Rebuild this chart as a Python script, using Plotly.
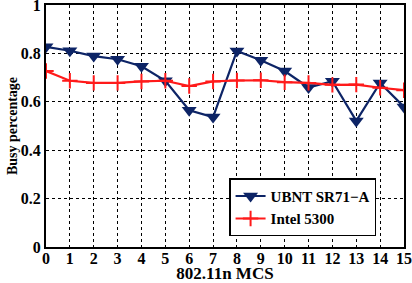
import plotly.graph_objects as go

mcs = list(range(16))
ubnt = [0.827, 0.811, 0.789, 0.776, 0.747, 0.687, 0.565, 0.537, 0.810, 0.772, 0.727, 0.659, 0.685, 0.521, 0.678, 0.579]
intel = [0.727, 0.687, 0.678, 0.678, 0.684, 0.687, 0.665, 0.684, 0.688, 0.689, 0.681, 0.678, 0.670, 0.671, 0.658, 0.648]
x_ticks = list(range(16))
y_ticks = [0, 0.2, 0.4, 0.6, 0.8, 1]
y_tick_text = ["0", "0.2", "0.4", "0.6", "0.8", "1"]

font = dict(family="Liberation Serif", size=15, color="black", weight="bold")

fig = go.Figure()
fig.add_trace(go.Scatter(
    x=mcs, y=ubnt, mode="lines+markers", name="UBNT SR71\u2212A",
    line=dict(color="#0d2466", width=2.2),
    marker=dict(symbol="triangle-down", size=13, color="#0d2466"),
))
fig.add_trace(go.Scatter(
    x=mcs, y=intel, mode="lines+markers", name="Intel 5300",
    line=dict(color="#ff1a1a", width=2.2),
    marker=dict(symbol="cross-thin", size=11, line=dict(color="#ff1a1a", width=2)),
))

axis_common = dict(
    showline=True, linecolor="black", linewidth=2, mirror=True,
    showgrid=True, gridcolor="black", griddash="3px,3px", gridwidth=1,
    zeroline=False, ticks="", ticklabeloverflow="allow", automargin=False,
    tickfont=dict(family="Liberation Serif", size=16, color="black", weight="bold"),
)

fig.update_layout(
    width=412, height=283,
    margin=dict(l=46, r=8, t=5, b=36),
    paper_bgcolor="white", plot_bgcolor="white",
    font=font,
    showlegend=True,
    legend=dict(
        x=0.922, y=0.284, xanchor="right", yanchor="top",
        bgcolor="white", bordercolor="black", borderwidth=1.5,
        font=dict(family="Liberation Serif", size=15, color="black", weight="bold"),
        itemwidth=30, tracegroupgap=0,
    ),
    xaxis=dict(
        range=[0, 15], tickvals=x_ticks, ticktext=[str(v) for v in x_ticks],
        ticklabelstandoff=-4,
        title=dict(text="802.11n MCS", standoff=2,
                   font=dict(family="Liberation Serif", size=17, weight="bold")),
        **axis_common,
    ),
    yaxis=dict(
        range=[0, 1], tickvals=y_ticks, ticktext=y_tick_text,
        title=dict(text="Busy percentage", standoff=0,
                   font=dict(family="Liberation Serif", size=14, weight="bold")),
        **axis_common,
    ),
)

fig.write_html("out.html", config={"displayModeBar": False},
               post_script="document.body.style.margin='0';")
